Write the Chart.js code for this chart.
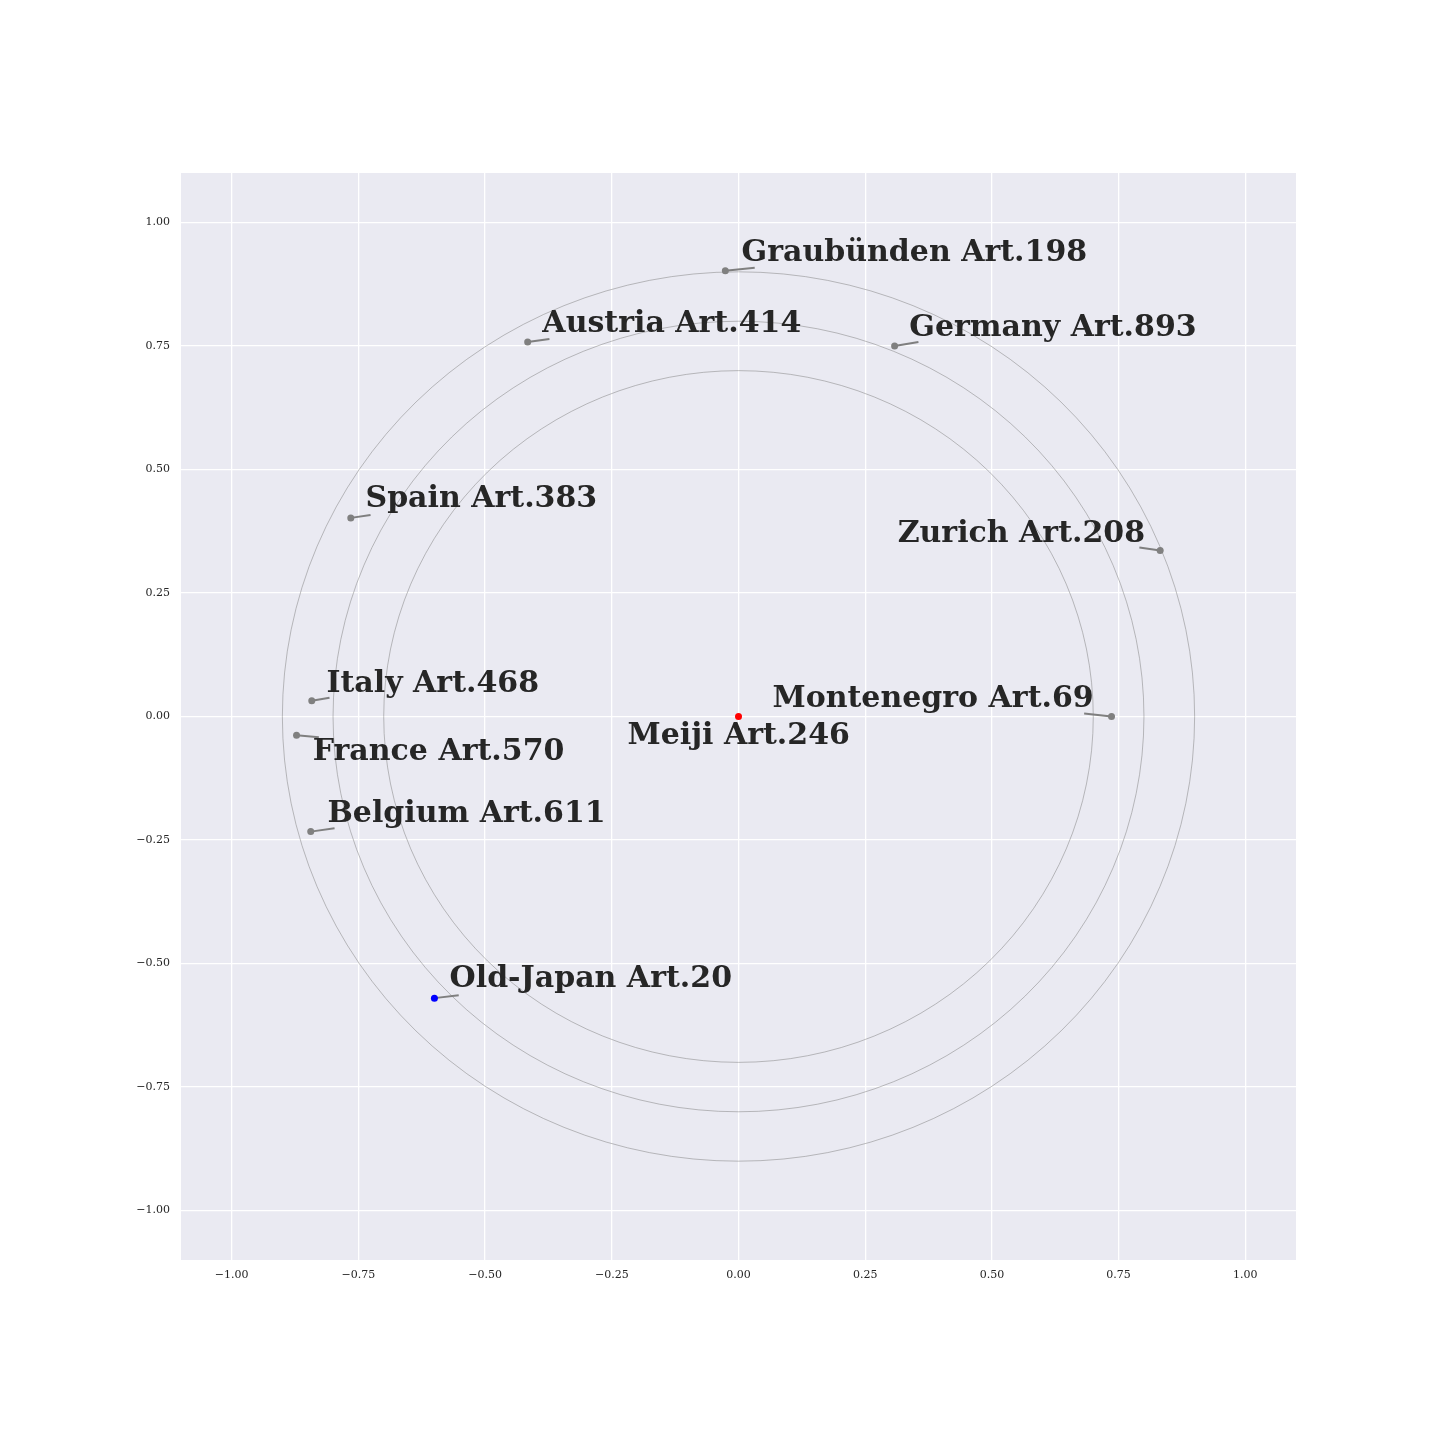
<!DOCTYPE html>
<html>
<head>
<meta charset="utf-8">
<script src="https://cdn.jsdelivr.net/npm/chart.js@4/dist/chart.umd.min.js"></script>
<style>
  body { margin: 0; background: #fff; }
  #wrap { width: 1440px; height: 1440px; }
</style>
</head>
<body>
<div id="wrap"><canvas id="myChart" width="1440" height="1440"></canvas></div>
<script>
// places and their article numbers
const places = ['Graubünden', 'Austria', 'Germany', 'Spain', 'Zurich', 'Italy',
                'France', 'Montenegro', 'Meiji', 'Belgium', 'Old-Japan'];
const articles = [198, 414, 893, 383, 208, 468, 570, 69, 246, 611, 20];

// point coordinates
const xs = [-0.026, -0.416, 0.308, -0.765, 0.832, -0.842, -0.872, 0.736, 0.0, -0.844, -0.600];
const ys = [0.902, 0.758, 0.750, 0.402, 0.336, 0.032, -0.038, 0.0, 0.0, -0.233, -0.570];

// label anchors (left / baseline) and leader line ends, data coords
const labelX = [0.006, -0.387, 0.337, -0.736, 0.314, -0.813, -0.840, 0.067, -0.219, -0.811, -0.570];
const labelY = [0.922, 0.779, 0.770, 0.423, 0.354, 0.049, -0.089, 0.020, -0.055, -0.214, -0.548];
const leadX = [0.032, -0.373, 0.355, -0.726, 0.791, -0.807, -0.828, 0.682, null, -0.797, -0.552];
const leadY = [0.908, 0.764, 0.758, 0.408, 0.342, 0.038, -0.042, 0.006, null, -0.226, -0.564];

// reference rings
const ringRadii = [0.7, 0.8, 0.9];

// ticks
const tickValues = [-1.0, -0.75, -0.5, -0.25, 0.0, 0.25, 0.5, 0.75, 1.0];

const pointColors = places.map(p => p == 'Meiji' ? 'red' : (p == 'Old-Japan' ? 'blue' : 'grey'));

function fmt(v){
    let s = Math.abs(v).toFixed(2);
    return v < 0 ? '\u2212' + s : s;
}

const bgPlugin = {
    id: 'bg',
    beforeDraw(chart){
        const a = chart.chartArea;
        const c = chart.ctx;
        c.save();
        c.fillStyle = '#EAEAF2';
        c.fillRect(a.left, a.top, a.right - a.left, a.bottom - a.top);
        c.restore();
    }
};

const ringPlugin = {
    id: 'rings',
    beforeDatasetsDraw(chart){
        const c = chart.ctx;
        const x = chart.scales.x, y = chart.scales.y;
        const cx = x.getPixelForValue(0), cy = y.getPixelForValue(0);
        c.save();
        c.strokeStyle = 'rgba(128,128,128,0.85)';
        c.lineWidth = 0.6;
        ringRadii.forEach(r => {
            const rx = x.getPixelForValue(r) - cx;
            const ry = cy - y.getPixelForValue(r);
            c.beginPath();
            c.ellipse(cx, cy, rx, ry, 0, 0, Math.PI * 2);
            c.stroke();
        });
        // leader lines
        c.strokeStyle = '#7f7f7f';
        c.lineWidth = 2;
        places.forEach((p, i) => {
            if (leadX[i] === null) return;
            c.beginPath();
            c.moveTo(x.getPixelForValue(xs[i]), y.getPixelForValue(ys[i]));
            c.lineTo(x.getPixelForValue(leadX[i]), y.getPixelForValue(leadY[i]));
            c.stroke();
        });
        c.restore();
    }
};

const labelPlugin = {
    id: 'labels',
    afterDatasetsDraw(chart){
        const c = chart.ctx;
        const x = chart.scales.x, y = chart.scales.y;
        c.save();
        c.font = 'bold 30px "DejaVu Serif"';
        c.fillStyle = '#262626';
        c.textAlign = 'left';
        c.textBaseline = 'alphabetic';
        places.forEach((p, i) => {
            c.fillText(p + ' Art.' + articles[i], x.getPixelForValue(labelX[i]), y.getPixelForValue(labelY[i]));
        });
        c.restore();
    }
};

const ctx = document.getElementById('myChart');

const axisStyle = {
    type: 'linear',
    min: -1.1,
    max: 1.1,
    afterBuildTicks: function(scale){
        scale.ticks = tickValues.map(v => ({ value: v }));
    },
    grid: { color: '#ffffff', lineWidth: 1.3, drawTicks: false },
    border: { display: false },
    ticks: {
        color: '#262626',
        font: { family: 'DejaVu Serif', size: 11 },
        callback: v => fmt(v)
    }
};

const myChart = new Chart(ctx, {
    type: 'scatter',
    data: {
        datasets: [{
            data: xs.map((v, i) => ({ x: v, y: ys[i] })),
            pointBackgroundColor: pointColors,
            pointBorderWidth: 0,
            pointRadius: 3.5,
            pointHoverRadius: 3.5
        }]
    },
    options: {
        responsive: false,
        animation: false,
        layout: { padding: { left: 0, top: 173, right: 144, bottom: 0 } },
        plugins: { legend: { display: false }, tooltip: { enabled: false } },
        scales: {
            x: Object.assign({}, axisStyle, {
                ticks: Object.assign({}, axisStyle.ticks, { padding: 9, maxRotation: 0 }),
                afterFit: s => { s.height = 180; }
            }),
            y: Object.assign({}, axisStyle, {
                ticks: Object.assign({}, axisStyle.ticks, { padding: 11 }),
                afterFit: s => { s.width = 181; }
            })
        }
    },
    plugins: [bgPlugin, ringPlugin, labelPlugin]
});
</script>
</body>
</html>
